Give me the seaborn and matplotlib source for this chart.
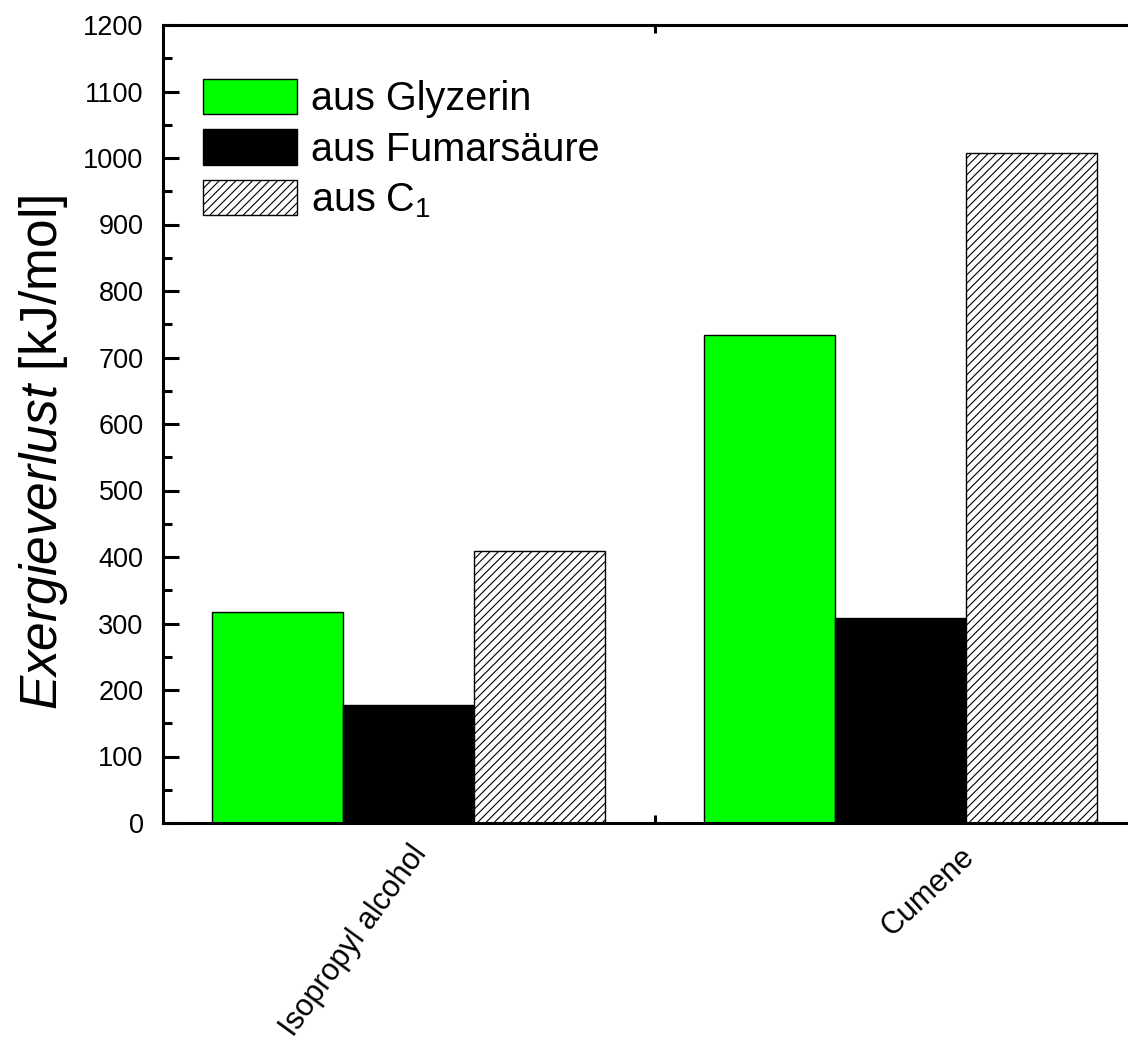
import numpy as np
import pandas as pd
import matplotlib
matplotlib.use("Agg")
import matplotlib.pyplot as plt
import matplotlib.transforms as mtransforms
from matplotlib.ticker import MultipleLocator, FixedLocator
import seaborn as sns

# ---- data ----
categories = ["Isopropyl alcohol", "Cumene"]
series = ["aus Glyzerin", "aus Fumarsäure", "aus C$_1$"]
glyzerin = [318, 734]
fumarsaeure = [177, 308]
c1 = [409, 1008]
colors = ["#00ff00", "#000000", "#ffffff"]

df = pd.DataFrame({
    "Produkt": categories * 3,
    "Quelle": [series[0]] * 2 + [series[1]] * 2 + [series[2]] * 2,
    "Wert": glyzerin + fumarsaeure + c1,
})

sns.set_theme(style="white")
plt.rcParams["font.family"] = ["Liberation Sans", "DejaVu Sans"]
plt.rcParams["mathtext.fontset"] = "custom"
plt.rcParams["mathtext.rm"] = "Liberation Sans"
plt.rcParams["mathtext.it"] = "Liberation Sans:italic"
plt.rcParams["hatch.linewidth"] = 0.8
plt.rcParams["hatch.color"] = "#555555"
for k in ["text.color", "axes.labelcolor", "xtick.color", "ytick.color"]:
    plt.rcParams[k] = "black"

fig = plt.figure(figsize=(11.28, 10.47), dpi=100)
ax = fig.add_axes([163 / 1128, 1 - 823 / 1047, 983 / 1128, 798 / 1047])

sns.barplot(data=df, x="Produkt", y="Wert", hue="Quelle", order=categories,
            hue_order=series, palette=colors, width=0.8, edgecolor="black",
            linewidth=1.0, saturation=1, legend=False, ax=ax, errorbar=None)

for bar in ax.containers[2]:
    bar.set_hatch("////")
    if hasattr(bar, "set_hatchcolor"):
        bar.set_hatchcolor("#666666")

ax.set_xlim(-0.5, 1.5)
ax.set_ylim(0, 1200)

for s in ax.spines.values():
    s.set_visible(True)
    s.set_linewidth(2.2)
    s.set_color("black")

ax.yaxis.set_major_locator(MultipleLocator(100))
ax.yaxis.set_minor_locator(MultipleLocator(50))
ax.tick_params(axis="y", which="major", direction="in", length=11.5, width=2.2,
               labelsize=19.5, pad=14, left=True, right=True)
ax.tick_params(axis="y", which="minor", direction="in", length=6.5, width=2.2,
               left=True, right=True)
ax.xaxis.set_minor_locator(FixedLocator([0.5]))
ax.tick_params(axis="x", which="major", length=0, labelsize=22, pad=0)
ax.tick_params(axis="x", which="minor", direction="in", length=6, width=2.2,
               bottom=True, top=True)

ax.set_xlabel("")
ax.set_ylabel(r"$\mathit{Exergieverlust}$ [kJ/mol]", fontsize=37)
ax.yaxis.set_label_coords((70 - 163) / 983, (823 - 452) / 798)

# per-label rotation and offset (px) to match reference placement
rots = [54, 43]
offsets = [(19, -30), (75, -36)]
for lab, r, (dx, dy) in zip(ax.get_xticklabels(), rots, offsets):
    lab.set_rotation(r)
    lab.set_ha("right")
    lab.set_va("baseline")
    lab.set_rotation_mode("anchor")
    lab.set_transform(lab.get_transform() +
                      mtransforms.ScaledTranslation(dx / 100, dy / 100, fig.dpi_scale_trans))

fs = 28.5
fpx = fs * 100 / 72
ax.legend(ax.containers, series, loc="upper left",
          bbox_to_anchor=(40 / 983, 1 - 54 / 798), frameon=False, fontsize=fs,
          handlelength=94 / fpx, handleheight=1.0, handletextpad=0.36,
          labelspacing=0.28, borderpad=0, borderaxespad=0)

fig.savefig("out.png", dpi=100)
